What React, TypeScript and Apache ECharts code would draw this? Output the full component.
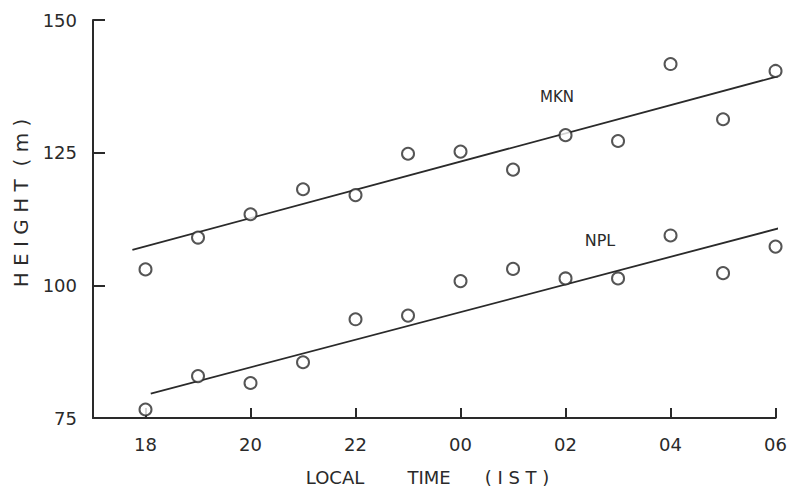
import React, { useEffect, useRef } from "react";
import * as echarts from "echarts";

// Hour index 0..12 corresponds to 18 h ... 06 h local time (IST)
const tickHourIndex = [0, 2, 4, 6, 8, 10, 12];
const tickHourLabels = ["18", "20", "22", "00", "02", "04", "06"];

// Observed heights (m), one per hour from 18 to 06
const mknHeight = [103.0, 109.0, 113.4, 118.1, 117.0, 124.8, 125.2, 121.8, 128.3, 127.2, 141.7, 131.3, 140.4];
const nplHeight = [76.6, 82.9, 81.6, 85.5, 93.6, 94.3, 100.8, 103.1, 101.3, 101.3, 109.4, 102.3, 107.3];

// Fitted straight lines (end points: hour index, height)
const mknFitX = [-0.25, 12.2];
const mknFitY = [106.7, 139.8];
const nplFitX = [0.1, 12.2];
const nplFitY = [79.6, 111.1];

const yTicks = { min: 75, max: 150, interval: 25 };

const INK = "#2a2a2a";
const FONT = "DejaVu Sans";

export default function App() {
  const ref = useRef<HTMLDivElement>(null);

  useEffect(() => {
    if (!ref.current) return;
    const chart = echarts.init(ref.current, undefined, { renderer: "svg" });
    const textStyle = (size: number) => ({
      fill: INK,
      font: `${size}px ${FONT}`,
      textAlign: "center",
      textVerticalAlign: "middle",
    });
    const option: any = {
      animation: false,
      backgroundColor: "#ffffff",
      grid: { left: 93, right: 13, top: 20, bottom: 73 },
      xAxis: {
        type: "value",
        min: -1,
        max: 12,
        axisLine: { show: true, onZero: false, lineStyle: { color: INK, width: 2 } },
        axisTick: {
          show: true,
          inside: true,
          length: 10,
          customValues: tickHourIndex,
          lineStyle: { color: INK, width: 2 },
        },
        axisLabel: {
          customValues: tickHourIndex,
          formatter: (v: number) => {
            const k = tickHourIndex.indexOf(Math.round(v));
            return k >= 0 ? tickHourLabels[k] : "";
          },
          margin: 17,
          fontSize: 18,
          color: INK,
          fontFamily: FONT,
        },
        splitLine: { show: false },
      },
      yAxis: {
        type: "value",
        min: yTicks.min,
        max: yTicks.max,
        interval: yTicks.interval,
        axisLine: { show: true, onZero: false, lineStyle: { color: INK, width: 2 } },
        axisTick: { show: true, inside: true, length: 12, lineStyle: { color: INK, width: 2 } },
        axisLabel: { margin: 16, fontSize: 18, color: INK, fontFamily: FONT },
        splitLine: { show: false },
      },
      series: [
        {
          type: "line",
          data: mknFitX.map((x, i) => [x, mknFitY[i]]),
          symbol: "none",
          clip: false,
          lineStyle: { color: INK, width: 1.8 },
          z: 2,
        },
        {
          type: "line",
          data: nplFitX.map((x, i) => [x, nplFitY[i]]),
          symbol: "none",
          clip: false,
          lineStyle: { color: INK, width: 1.8 },
          z: 2,
        },
        {
          type: "scatter",
          data: mknHeight.map((v, i) => [i, v]),
          symbol: "circle",
          symbolSize: 12,
          itemStyle: { color: "#ffffff", borderColor: INK, borderWidth: 2 },
          z: 3,
        },
        {
          type: "scatter",
          data: nplHeight.map((v, i) => [i, v]),
          symbol: "circle",
          symbolSize: 12,
          itemStyle: { color: "#ffffff", borderColor: INK, borderWidth: 2 },
          z: 3,
        },
      ],
      graphic: [
        { type: "text", x: 557, y: 97, style: { text: "MKN", ...textStyle(15) } },
        { type: "text", x: 600, y: 240, style: { text: "NPL", ...textStyle(16) } },
        { type: "text", x: 335, y: 477, style: { text: "LOCAL", ...textStyle(18) } },
        { type: "text", x: 429, y: 477, style: { text: "TIME", ...textStyle(18) } },
        { type: "text", x: 517, y: 477, style: { text: "( I S T )", ...textStyle(18) } },
        {
          type: "text",
          x: 21,
          y: 203,
          rotation: Math.PI / 2,
          style: { text: "H E I G H T  ( m )", ...textStyle(20) },
        },
      ],
    };
    chart.setOption(option);
    return () => chart.dispose();
  }, []);

  return (
    <div
      ref={ref}
      style={{ position: "fixed", left: 0, top: 0, width: 790, height: 491, background: "#fff" }}
    />
  );
}
